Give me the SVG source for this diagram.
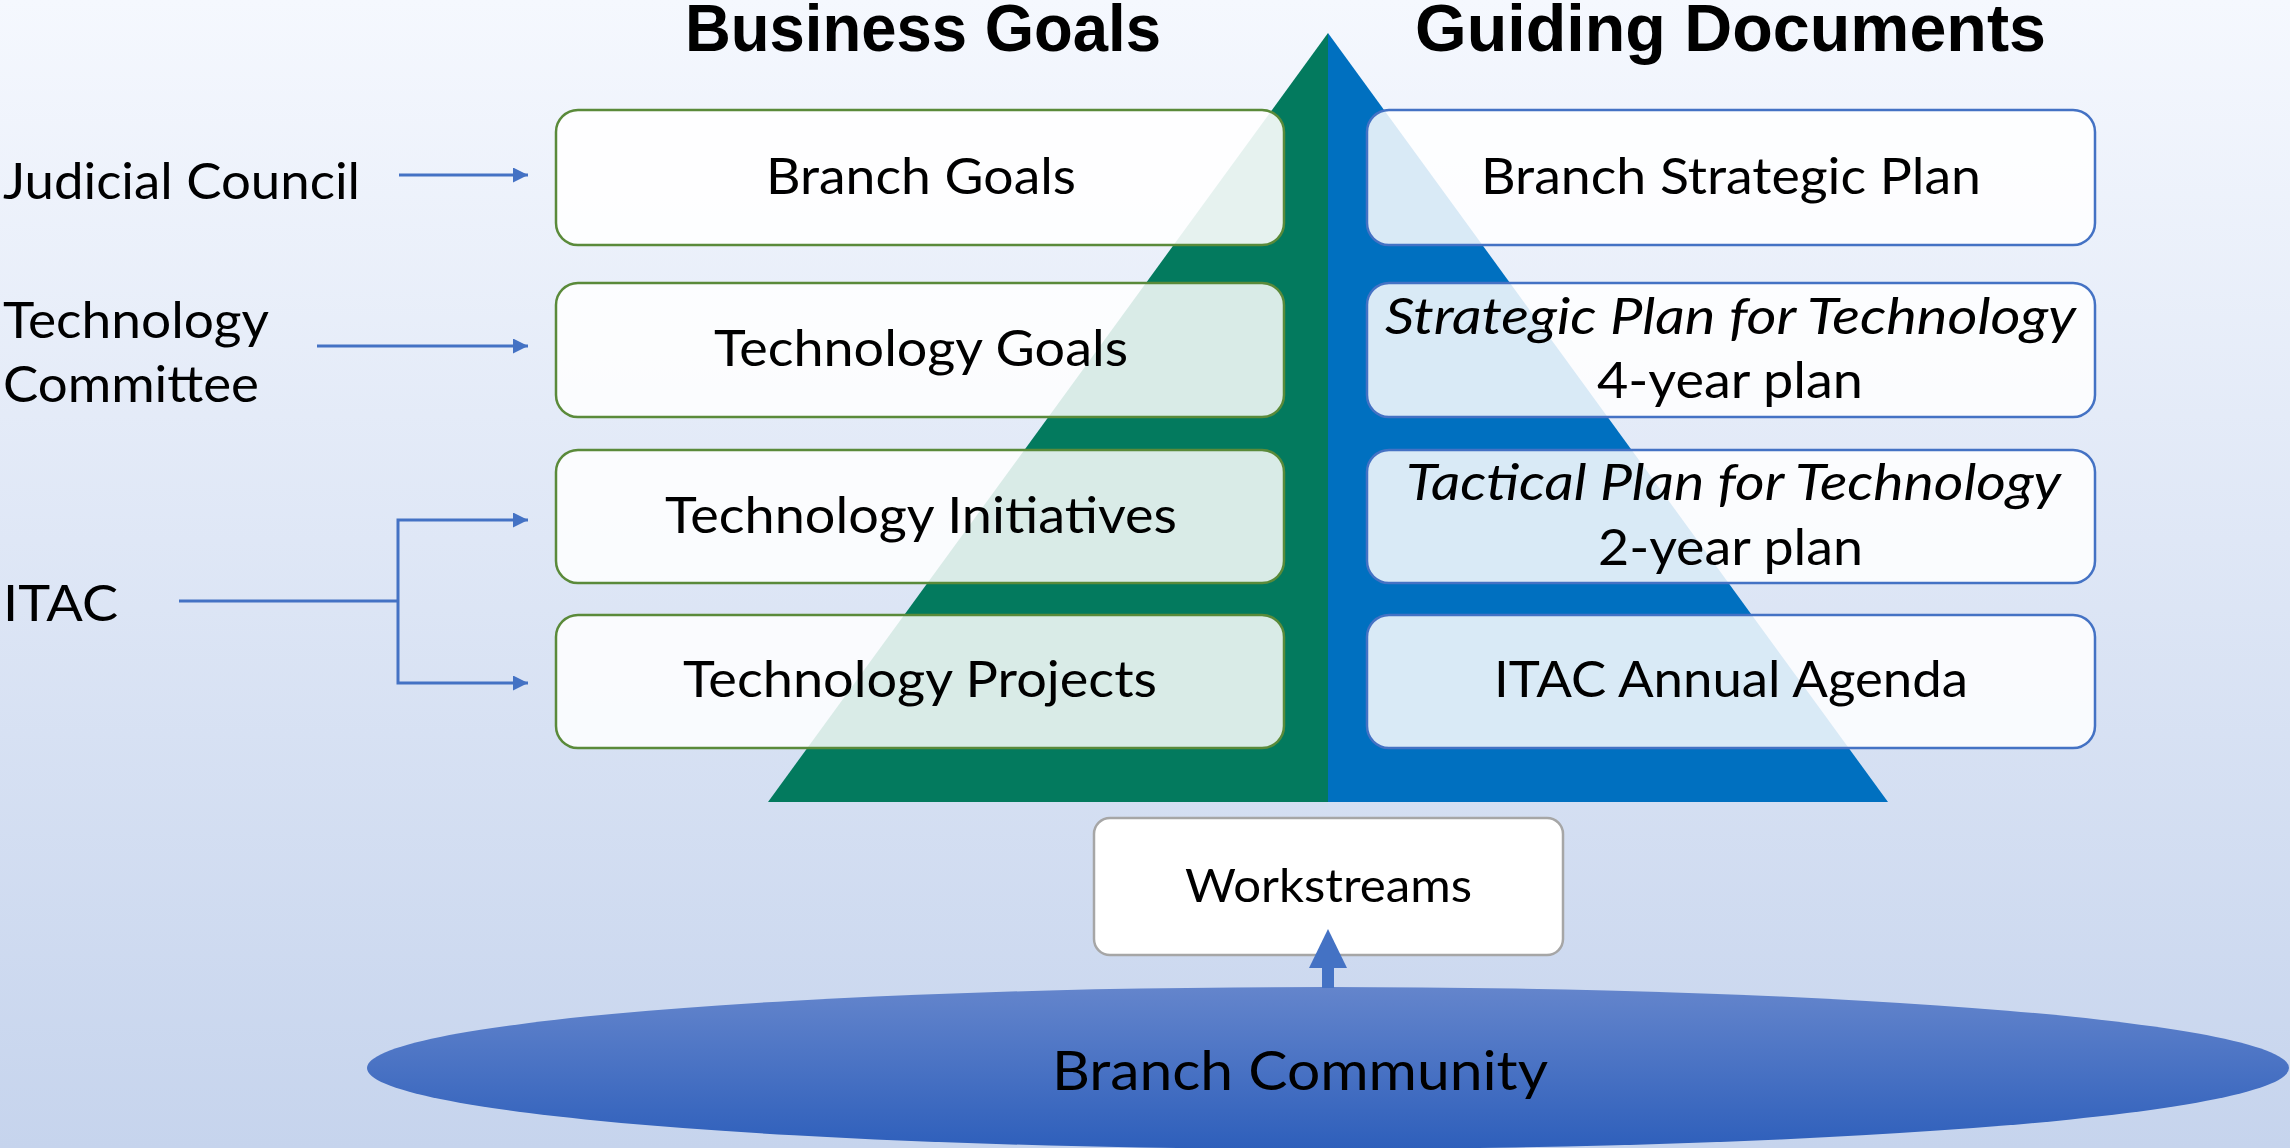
<svg xmlns="http://www.w3.org/2000/svg" width="2290" height="1148" viewBox="0 0 2290 1148">
<defs>
<linearGradient id="bg" x1="0" y1="0" x2="0" y2="1">
<stop offset="0" stop-color="#f5f8fe"/>
<stop offset="1" stop-color="#c6d4ed"/>
</linearGradient>
<linearGradient id="ell" x1="0" y1="0" x2="0" y2="1">
<stop offset="0" stop-color="#6485cc"/>
<stop offset="1" stop-color="#2e5fbb"/>
</linearGradient>
<marker id="ah" viewBox="0 0 15 15" refX="15" refY="7.5" markerWidth="15" markerHeight="15" markerUnits="userSpaceOnUse" orient="auto">
<path d="M0,0 L15,7.5 L0,15 z" fill="#4472c4"/>
</marker>
</defs>
<style>
.t{font-family:Lato,"Liberation Sans",sans-serif;font-size:50px;fill:#000}
.i{font-style:italic}
.h{font-family:"Liberation Sans",Arial,sans-serif;font-weight:bold;font-size:67px;fill:#000}
.gb{fill:#fff;stroke:#5a8a3a;stroke-width:2.5}
.bb{fill:#fff;stroke:#4472c4;stroke-width:2.5}
.c{fill:none;stroke:#4472c4;stroke-width:3}
</style>
<rect x="0" y="0" width="2290" height="1148" fill="url(#bg)"/>
<g id="pyramid">
<polygon points="1328,33 768,802 1328,802" fill="#037a5e"/>
<polygon points="1328,33 1888,802 1328,802" fill="#0070c0"/>
</g>
<g id="headings">
<text class="h" x="685" y="51" textLength="476" lengthAdjust="spacingAndGlyphs">Business Goals</text>
<text class="h" x="1415" y="51" textLength="631" lengthAdjust="spacingAndGlyphs">Guiding Documents</text>
</g>
<g id="labels">
<text class="t" x="3" y="199" textLength="357" lengthAdjust="spacingAndGlyphs">Judicial Council</text>
<text class="t" x="3" y="338" textLength="266" lengthAdjust="spacingAndGlyphs">Technology</text>
<text class="t" x="3" y="402" textLength="256" lengthAdjust="spacingAndGlyphs">Committee</text>
<text class="t" x="3" y="621" textLength="115" lengthAdjust="spacingAndGlyphs">ITAC</text>
</g>
<g id="node-branch-goals">
<rect class="gb" x="556" y="110" width="728" height="135" rx="22" fill-opacity="0.9"/>
<text class="t" x="766" y="194" textLength="310" lengthAdjust="spacingAndGlyphs">Branch Goals</text>
</g>
<g id="node-technology-goals">
<rect class="gb" x="556" y="283" width="728" height="134" rx="22" fill-opacity="0.85"/>
<text class="t" x="714" y="366" textLength="414" lengthAdjust="spacingAndGlyphs">Technology Goals</text>
</g>
<g id="node-technology-initiatives">
<rect class="gb" x="556" y="450" width="728" height="133" rx="22" fill-opacity="0.85"/>
<text class="t" x="665" y="533" textLength="512" lengthAdjust="spacingAndGlyphs">Technology Initiatives</text>
</g>
<g id="node-technology-projects">
<rect class="gb" x="556" y="615" width="728" height="133" rx="22" fill-opacity="0.85"/>
<text class="t" x="683" y="697" textLength="474" lengthAdjust="spacingAndGlyphs">Technology Projects</text>
</g>
<g id="node-branch-strategic-plan">
<rect class="bb" x="1367" y="110" width="728" height="135" rx="22" fill-opacity="0.85"/>
<text class="t" x="1481" y="194" textLength="500" lengthAdjust="spacingAndGlyphs">Branch Strategic Plan</text>
</g>
<g id="node-strategic-plan-tech">
<rect class="bb" x="1367" y="283" width="728" height="134" rx="22" fill-opacity="0.85"/>
<text class="t i" x="1385" y="334" textLength="691" lengthAdjust="spacingAndGlyphs">Strategic Plan for Technology</text>
<text class="t" x="1597" y="398" textLength="266" lengthAdjust="spacingAndGlyphs">4-year plan</text>
</g>
<g id="node-tactical-plan-tech">
<rect class="bb" x="1367" y="450" width="728" height="133" rx="22" fill-opacity="0.85"/>
<text class="t i" x="1406" y="500" textLength="655" lengthAdjust="spacingAndGlyphs">Tactical Plan for Technology</text>
<text class="t" x="1598" y="565" textLength="265" lengthAdjust="spacingAndGlyphs">2-year plan</text>
</g>
<g id="node-itac-annual-agenda">
<rect class="bb" x="1367" y="615" width="728" height="133" rx="22" fill-opacity="0.85"/>
<text class="t" x="1494" y="697" textLength="474" lengthAdjust="spacingAndGlyphs">ITAC Annual Agenda</text>
</g>
<g id="node-branch-community">
<ellipse cx="1328" cy="1068" rx="961" ry="81" fill="url(#ell)"/>
<text class="t" x="1052" y="1090" style="font-size:54px" textLength="496" lengthAdjust="spacingAndGlyphs">Branch Community</text>
</g>
<g id="node-workstreams">
<rect x="1094" y="818" width="469" height="137" rx="16" fill="#fff" stroke="#a6a6a6" stroke-width="2.5"/>
<text class="t" x="1185" y="902" style="font-size:47px" textLength="287" lengthAdjust="spacingAndGlyphs">Workstreams</text>
</g>
<g id="connectors">
<path class="c" d="M399,175 H528" marker-end="url(#ah)"/>
<path class="c" d="M317,346 H528" marker-end="url(#ah)"/>
<path class="c" d="M179,601 H398"/>
<path class="c" d="M398,601 V520 H528" marker-end="url(#ah)"/>
<path class="c" d="M398,601 V683 H528" marker-end="url(#ah)"/>
<path d="M1328,988 V966" stroke="#4472c4" stroke-width="12" fill="none"/>
<polygon points="1309,968 1347,968 1328,929" fill="#4472c4"/>
</g>
</svg>
